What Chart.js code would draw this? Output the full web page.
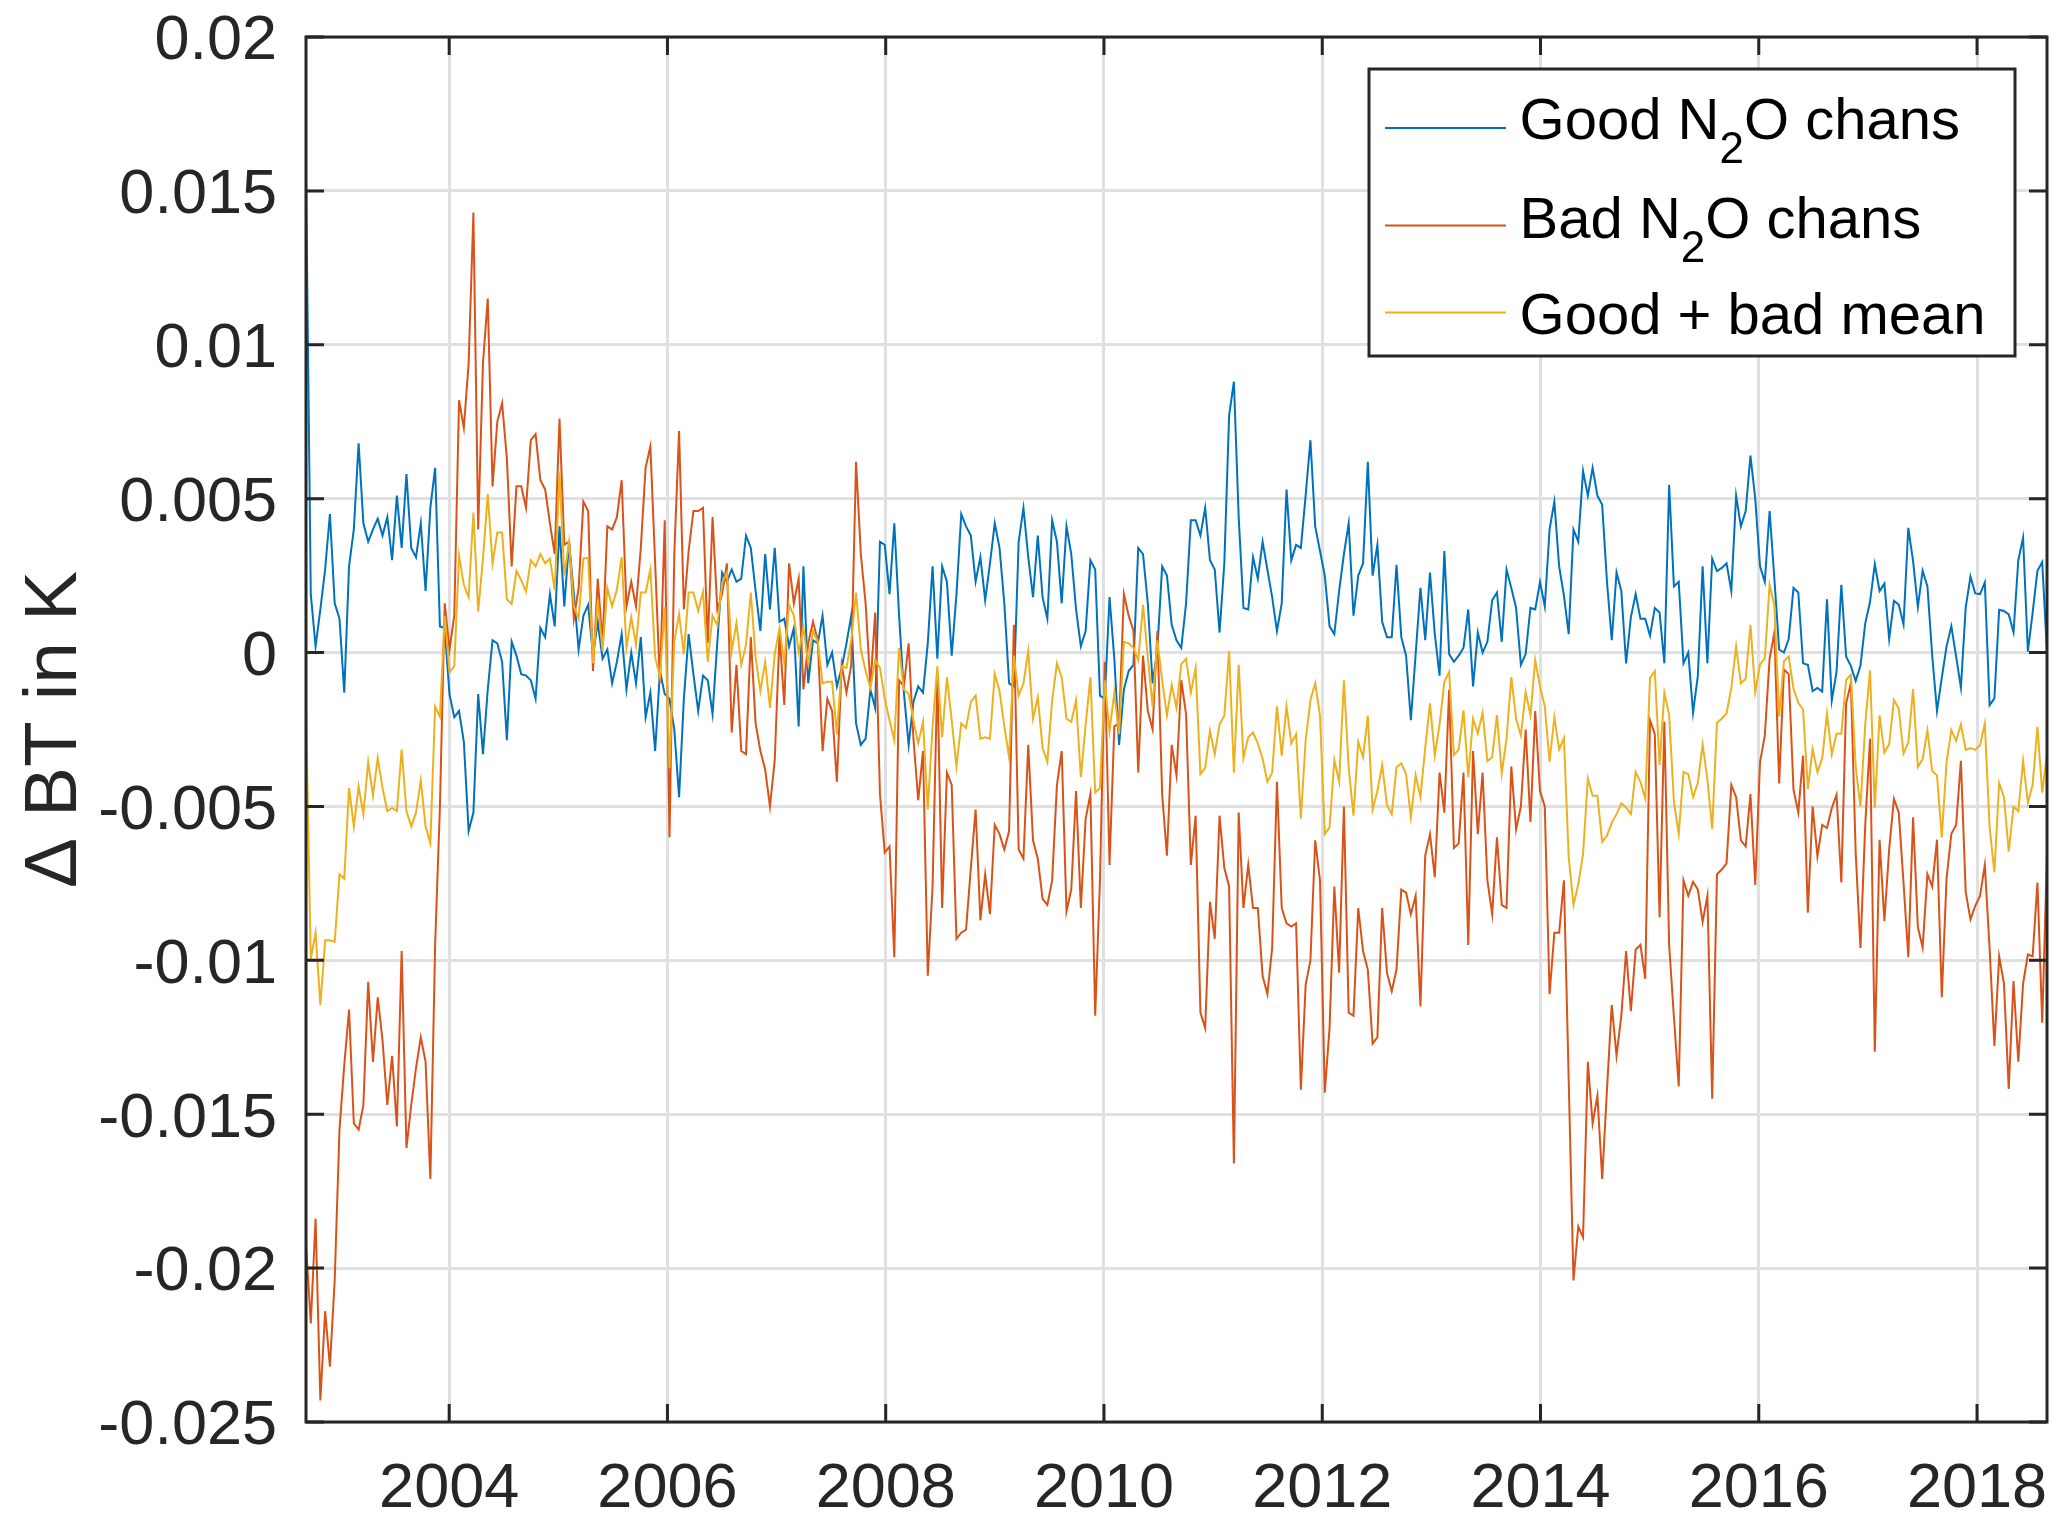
<!DOCTYPE html>
<html>
<head>
<meta charset="utf-8">
<script src="https://cdn.jsdelivr.net/npm/chart.js@4.4.1/dist/chart.umd.min.js"></script>
<style>
html,body{margin:0;padding:0;background:#fff;}
#wrap{width:2067px;height:1527px;position:relative;}
canvas{display:block;}
</style>
</head>
<body>
<div id="wrap"><canvas id="c" width="2067" height="1527"></canvas></div>
<script>
// ---- time axis (16-day samples spanning the plot) ----
const startYear = 2002.688;
const endYear = 2018.641;
const tickYears = [2004, 2006, 2008, 2010, 2012, 2014, 2016, 2018];
const yTicks = [-0.025, -0.02, -0.015, -0.01, -0.005, 0, 0.005, 0.01, 0.015, 0.02];
const seriesLabels = ['Good N_2O chans', 'Bad N_2O chans', 'Good + bad mean'];
const seriesColors = ['#0072BD', '#D95319', '#EDB120'];

// ---- series values (K) ----
const good = [
0.0155,0.0019,0.0002,0.0014,0.0027,0.0045,0.0016,0.0011,-0.0013,0.0028,
0.0040,0.0068,0.0042,0.0036,0.0040,0.00435,0.0038,0.0044,0.0030,0.0051,
0.0034,0.0058,0.0034,0.0031,0.0042,0.0020,0.0047,0.0060,0.00085,0.0008,
-0.00135,-0.0021,-0.0019,-0.0029,-0.0058,-0.0052,-0.00135,-0.0033,-0.0012,0.0004,
0.0003,-0.0003,-0.00285,0.00035,-0.0001,-0.0007,-0.00075,-0.0009,-0.0015,0.0008,
0.0005,0.0019,0.00085,0.0041,0.0015,0.0036,0.0019,0.0001,0.0012,0.00155,
-0.0001,0.0010,-0.0002,0.0001,-0.0010,-0.0003,0.0006,-0.0012,0.0000,-0.0010,
0.0005,-0.0021,-0.0013,-0.0032,-0.0006,-0.00135,-0.0015,-0.0025,-0.0047,-0.0015,
0.0006,-0.0007,-0.0019,-0.00075,-0.0009,-0.0020,0.00035,0.0026,0.0023,0.0027,
0.0023,0.0024,0.0038,0.0034,0.0020,0.0007,0.0032,0.0014,0.0034,0.0010,
0.0011,0.0002,0.0008,-0.0024,0.0028,-0.0010,0.0004,0.0003,0.0012,-0.0004,
0.0000,-0.0011,-0.0005,0.0003,0.0012,-0.0023,-0.0030,-0.0028,-0.0012,-0.0018,
0.0036,0.0035,0.0019,0.0042,0.0012,-0.0013,-0.0030,-0.0016,-0.0011,-0.0013,
0.0003,0.0028,-0.0002,0.0028,0.0023,-0.0001,0.0019,0.0045,0.0041,0.0038,
0.0023,0.0031,0.0017,0.0029,0.0042,0.0034,0.0016,-0.0010,-0.0011,0.0036,
0.0047,0.0031,0.0018,0.0038,0.0018,0.0011,0.0043,0.0036,0.0016,0.0041,
0.0032,0.0014,0.0002,0.0007,0.0030,0.0027,-0.0014,-0.0015,0.0018,-0.0002,
-0.0030,-0.0012,-0.0006,-0.0004,0.0034,0.0032,0.0016,-0.0010,0.0001,0.0028,
0.0025,0.0009,0.0004,0.00015,0.0016,0.0043,0.0043,0.0038,0.0047,0.0030,
0.0027,0.00065,0.0029,0.0077,0.0088,0.0044,0.00145,0.0014,0.0031,0.0024,
0.0036,0.0027,0.0018,0.0007,0.0016,0.0053,0.0030,0.0035,0.0034,0.0051,
0.0069,0.0041,0.0033,0.0025,0.00085,0.0006,0.0020,0.0032,0.0042,0.0012,
0.0025,0.0029,0.0062,0.0025,0.0035,0.0010,0.0005,0.0005,0.00285,0.0005,
-0.0001,-0.0022,-0.00005,0.0021,0.0004,0.0026,0.0006,-0.00075,0.0033,-0.00005,
-0.0003,-0.0001,0.00015,0.0014,-0.0011,0.00065,0.0000,0.00035,0.0017,0.00195,
0.00035,0.0027,0.0021,0.00145,-0.0004,-0.00005,0.00145,0.0014,0.0023,0.0015,
0.0040,0.0049,0.0028,0.00185,0.0006,0.0040,0.0036,0.0059,0.0051,0.0060,
0.0051,0.0048,0.0023,0.0004,0.0026,0.0020,-0.00035,0.00115,0.0019,0.0011,
0.0011,0.00055,0.00145,0.0013,-0.00035,0.00545,0.00215,0.0023,-0.00035,0.0000,
-0.00195,-0.00075,0.0028,-0.00035,0.00305,0.00265,0.00275,0.0029,0.0020,0.0051,
0.0041,0.0046,0.0064,0.0050,0.0028,0.0023,0.0046,0.0024,0.0001,0.0000,
0.00045,0.0021,0.00195,-0.00035,-0.0004,-0.00125,-0.00115,-0.00127,0.00173,-0.00156,
-0.00063,0.0022,-0.00013,-0.00044,-0.00092,-0.00042,0.00095,0.00165,0.00287,0.0020,
0.00224,0.00044,0.00168,0.00156,0.00092,0.00405,0.00297,0.00148,0.00266,0.00215,
-0.0001,-0.0019,-0.00082,0.0002,0.00086,-0.00013,-0.00114,0.00146,0.00247,0.00192,
0.0019,0.00228,-0.00171,-0.00149,0.00139,0.00135,0.00124,0.00066,0.0030,0.00373,
0.00003,0.0013,0.00266,0.00294,0.0000
];
const bad = [
-0.0192,-0.0218,-0.0184,-0.0243,-0.0214,-0.0232,-0.0204,-0.0155,-0.0134,-0.0116,
-0.0153,-0.0155,-0.0147,-0.0107,-0.0133,-0.0112,-0.0126,-0.0147,-0.0131,-0.0154,
-0.0097,-0.0161,-0.0147,-0.0135,-0.0125,-0.0133,-0.0171,-0.0095,-0.0050,0.0016,
0.0001,0.0012,0.0082,0.0073,0.0094,0.0143,0.0040,0.0094,0.0115,0.0054,
0.0075,0.0081,0.0063,0.0028,0.0054,0.0054,0.0047,0.0069,0.0071,0.0056,
0.0053,0.0042,0.0032,0.0076,0.0035,0.0036,0.0011,0.0021,0.0049,0.0046,
-0.0006,0.0024,0.0003,0.0041,0.0040,0.0044,0.0056,0.0015,0.0023,0.0015,
0.0034,0.0060,0.0067,0.0029,-0.0010,0.0043,-0.0060,0.0032,0.0072,0.0014,
0.0033,0.0046,0.0046,0.0047,0.0003,0.0044,0.0014,0.0019,0.0029,-0.0026,
-0.0004,-0.0032,-0.0033,0.0005,-0.0023,-0.0032,-0.0038,-0.0050,-0.0035,0.0006,
-0.0017,0.0029,0.0016,0.0024,-0.0012,0.0003,0.0010,0.0004,-0.0032,-0.0015,
-0.0019,-0.0042,-0.0004,-0.0013,-0.0004,0.0062,0.0032,0.0016,-0.0011,0.0013,
-0.0046,-0.0065,-0.0063,-0.0099,-0.0009,-0.0011,0.0003,-0.0028,-0.0048,-0.0032,
-0.0105,-0.0076,-0.0007,-0.0083,-0.0039,-0.0043,-0.0093,-0.0091,-0.0090,-0.0070,
-0.0051,-0.0087,-0.0072,-0.0085,-0.0056,-0.0059,-0.0064,-0.0058,0.0009,-0.0064,
-0.0067,-0.0030,-0.0061,-0.0067,-0.0080,-0.0082,-0.0074,-0.0043,-0.0032,-0.0084,
-0.0077,-0.0045,-0.0083,-0.0054,-0.0046,-0.0118,-0.0074,-0.0003,-0.0069,-0.0024,
-0.0023,0.0019,0.0012,0.0007,-0.0039,-0.0001,-0.0019,-0.0025,0.0007,-0.0046,
-0.0066,-0.0030,-0.0040,-0.0009,-0.0020,-0.0069,-0.0053,-0.0117,-0.0122,-0.0081,
-0.0093,-0.0053,-0.0070,-0.0076,-0.0166,-0.0052,-0.0083,-0.0069,-0.0083,-0.0083,
-0.0105,-0.0111,-0.0096,-0.0042,-0.0083,-0.0088,-0.0089,-0.0088,-0.0142,-0.0108,
-0.0100,-0.0061,-0.0074,-0.0143,-0.0122,-0.0076,-0.0104,-0.0050,-0.0117,-0.0118,
-0.0083,-0.0097,-0.0103,-0.0127,-0.0125,-0.0083,-0.0104,-0.0110,-0.0103,-0.0077,
-0.0078,-0.0085,-0.0079,-0.0115,-0.0066,-0.0059,-0.0073,-0.0039,-0.0052,-0.0012,
-0.00635,-0.0062,-0.0039,-0.0095,-0.0032,-0.0059,-0.0039,-0.0074,-0.0085,-0.0060,
-0.0082,-0.0083,-0.0037,-0.00575,-0.0050,-0.0025,-0.0055,-0.0019,-0.0045,-0.0050,
-0.0111,-0.0091,-0.0091,-0.0074,-0.0139,-0.0204,-0.01865,-0.0190,-0.0133,-0.0153,
-0.0144,-0.0171,-0.0142,-0.01145,-0.0131,-0.0118,-0.0097,-0.01165,-0.00965,-0.0095,
-0.0106,-0.0022,-0.00265,-0.0086,-0.00225,-0.0095,-0.01185,-0.0141,-0.0074,-0.0079,
-0.00745,-0.0077,-0.00875,-0.0079,-0.0145,-0.0072,-0.00705,-0.00685,-0.0043,-0.0047,
-0.0061,-0.0063,-0.0046,-0.00755,-0.00355,-0.0027,-0.0002,0.00065,-0.00425,-0.00055,
-0.0007,-0.00445,-0.0052,-0.00335,-0.00845,-0.0050,-0.00662,-0.0056,-0.0057,-0.00506,
-0.00462,-0.00747,-0.00165,-0.0010,-0.0065,-0.0096,-0.0056,-0.0028,-0.01297,-0.00608,
-0.00873,-0.00639,-0.00475,-0.00519,-0.00747,-0.0099,-0.00535,-0.00892,-0.00958,-0.0072,
-0.0076,-0.00608,-0.0112,-0.00734,-0.00589,-0.0056,-0.00352,-0.00778,-0.00867,-0.00823,
-0.00791,-0.0069,-0.00962,-0.01278,-0.00987,-0.01076,-0.01418,-0.01067,-0.01329,-0.01076,
-0.00981,-0.00987,-0.00747,-0.01203,-0.00658
];
const meanGoodBad = [
-0.00185,-0.00995,-0.0091,-0.01145,-0.00935,-0.00935,-0.0094,-0.0072,-0.00735,-0.0044,
-0.00565,-0.00435,-0.00525,-0.00355,-0.00465,-0.00343,-0.0044,-0.00515,-0.00505,-0.00515,
-0.00315,-0.00515,-0.00565,-0.0052,-0.00415,-0.00565,-0.0062,-0.00175,-0.00208,0.0012,
-0.00063,-0.00045,0.00315,0.0022,0.0018,0.00455,0.00133,0.00305,0.00515,0.0029,
0.0039,0.0039,0.00173,0.00158,0.00265,0.00235,0.00198,0.0030,0.0028,0.0032,
0.0029,0.00305,0.00203,0.00585,0.0025,0.0036,0.0015,0.0011,0.00305,0.00308,
-0.00035,0.0017,0.00005,0.0021,0.0015,0.00205,0.0031,0.00015,0.00115,0.00025,
0.00195,0.00195,0.0027,-0.00015,-0.0008,0.00148,-0.00375,0.00035,0.00125,-0.00005,
0.00195,0.00195,0.00135,0.00198,-0.0003,0.0012,0.00088,0.00225,0.0026,0.00005,
0.00095,-0.0004,0.00025,0.00195,-0.00015,-0.00125,-0.0003,-0.0018,-0.00005,0.0008,
-0.0003,0.00155,0.0012,0.0000,0.0008,-0.00035,0.0007,0.00035,-0.0010,-0.00095,
-0.00095,-0.00265,-0.00045,-0.0005,0.0004,0.00195,0.0001,-0.0006,-0.00115,-0.00025,
-0.0005,-0.0015,-0.0022,-0.00285,0.00015,-0.0012,-0.00135,-0.0022,-0.00295,-0.00225,
-0.0051,-0.0024,-0.00045,-0.00275,-0.0008,-0.0022,-0.0037,-0.0023,-0.00245,-0.0016,
-0.0014,-0.0028,-0.00275,-0.0028,-0.0007,-0.00125,-0.0024,-0.0034,-0.0001,-0.0014,
-0.0010,0.00005,-0.00215,-0.00145,-0.0031,-0.00355,-0.00155,-0.00035,-0.0008,-0.00215,
-0.00225,-0.00155,-0.00405,-0.00235,-0.0008,-0.00455,-0.0044,-0.0009,-0.00255,-0.0013,
-0.00265,0.00035,0.0003,0.00015,-0.00025,0.00155,-0.00015,-0.00175,0.0004,-0.0009,
-0.00205,-0.00105,-0.0018,-0.00038,-0.0002,-0.0013,-0.0005,-0.00395,-0.00375,-0.00255,
-0.0033,-0.00233,-0.00205,0.00005,-0.0039,-0.0004,-0.00343,-0.00275,-0.0026,-0.00295,
-0.00345,-0.0042,-0.0039,-0.00175,-0.00335,-0.00175,-0.00295,-0.00265,-0.0054,-0.00285,
-0.00155,-0.0010,-0.00205,-0.0059,-0.00568,-0.0035,-0.0042,-0.0009,-0.00375,-0.0053,
-0.0029,-0.0034,-0.00205,-0.0051,-0.0045,-0.00365,-0.00495,-0.00525,-0.00373,-0.0036,
-0.00395,-0.00535,-0.00398,-0.0047,-0.0031,-0.00165,-0.00335,-0.00233,-0.00095,-0.00063,
-0.00333,-0.00315,-0.00188,-0.00405,-0.00215,-0.00263,-0.00195,-0.00353,-0.0034,-0.00203,
-0.00393,-0.0028,-0.0008,-0.00215,-0.0027,-0.00128,-0.00203,-0.00025,-0.0011,-0.00175,
-0.00355,-0.0021,-0.00315,-0.00278,-0.00665,-0.0082,-0.00753,-0.00655,-0.0041,-0.00465,
-0.00465,-0.00615,-0.00595,-0.00553,-0.00525,-0.0049,-0.00503,-0.00525,-0.00388,-0.0042,
-0.00475,-0.00083,-0.0006,-0.00365,-0.0013,-0.00203,-0.00485,-0.0059,-0.00388,-0.00395,
-0.0047,-0.00423,-0.00298,-0.00413,-0.00573,-0.00228,-0.00215,-0.00198,-0.00115,0.0002,
-0.0010,-0.00085,0.0009,-0.00128,-0.00038,-0.0002,0.0022,0.00153,-0.00208,-0.00028,
-0.00013,-0.00118,-0.00163,-0.00185,-0.00443,-0.00313,-0.00389,-0.00344,-0.00199,-0.00331,
-0.00263,-0.00264,-0.00089,-0.00072,-0.00371,-0.00501,-0.00233,-0.00058,-0.00505,-0.00204,
-0.00325,-0.00298,-0.00154,-0.00182,-0.00328,-0.00293,-0.00119,-0.00372,-0.00346,-0.00253,
-0.00385,-0.00399,-0.00601,-0.00357,-0.00252,-0.00287,-0.00233,-0.00316,-0.0031,-0.00316,
-0.00301,-0.00231,-0.00567,-0.00714,-0.00424,-0.00471,-0.00647,-0.00501,-0.00515,-0.00352,
-0.00489,-0.00429,-0.00241,-0.00455,-0.00329
];

// sample times (evenly spaced acquisition dates)
const sampleTimes = good.map((_, i) => startYear + i * (endYear - startYear) / (good.length - 1));
const toPoints = arr => arr.map((v, i) => ({x: sampleTimes[i], y: v}));

const FONT = '"Liberation Sans", Arial, Helvetica, sans-serif';
const AX = '#262626';

function fmtY(v) {
  const r = Math.round(v * 1000) / 1000;
  if (Math.abs(r) < 1e-12) return '0';
  return String(r);
}

const frameAndLegend = {
  id: 'frameAndLegend',
  afterDraw(chart) {
    const {ctx, chartArea: a, scales: {x, y}} = chart;
    ctx.save();
    // axes box and inward ticks
    ctx.strokeStyle = AX;
    ctx.lineWidth = 3;
    const tl = 18;
    ctx.beginPath();
    tickYears.forEach(v => {
      const px = x.getPixelForValue(v);
      ctx.moveTo(px, a.bottom); ctx.lineTo(px, a.bottom - tl);
      ctx.moveTo(px, a.top); ctx.lineTo(px, a.top + tl);
    });
    yTicks.forEach(v => {
      const py = y.getPixelForValue(v);
      ctx.moveTo(a.left, py); ctx.lineTo(a.left + tl, py);
      ctx.moveTo(a.right, py); ctx.lineTo(a.right - tl, py);
    });
    ctx.stroke();
    ctx.strokeRect(a.left, a.top, a.right - a.left, a.bottom - a.top);

    // legend box
    const bx = a.right - 678, by = a.top + 32, bw = 646, bh = 287;
    ctx.fillStyle = '#ffffff';
    ctx.fillRect(bx, by, bw, bh);
    ctx.strokeStyle = AX;
    ctx.lineWidth = 3;
    ctx.strokeRect(bx, by, bw, bh);

    const lineY = [59, 156.5, 243.6];
    const baseY = [69.5, 168.5, 265];
    const mainSize = 58, subSize = 44, subDrop = 24;
    chart.data.datasets.forEach((ds, k) => {
      ctx.strokeStyle = ds.borderColor;
      ctx.lineWidth = 2;
      ctx.beginPath();
      ctx.moveTo(bx + 16, by + lineY[k]);
      ctx.lineTo(bx + 137, by + lineY[k]);
      ctx.stroke();
      // text with subscripts marked as _c
      const parts = seriesLabels[k].split(/_(.)/);
      let tx = bx + 150.6;
      const ty = by + baseY[k];
      ctx.fillStyle = '#000000';
      ctx.textBaseline = 'alphabetic';
      ctx.textAlign = 'left';
      parts.forEach((p, j) => {
        const isSub = j % 2 === 1;
        ctx.font = (isSub ? subSize : mainSize) + 'px ' + FONT;
        ctx.fillText(p, tx, ty + (isSub ? subDrop : 0));
        tx += ctx.measureText(p).width;
      });
    });
    ctx.restore();
  }
};

const datasets = [good, bad, meanGoodBad].map((arr, k) => ({
  label: seriesLabels[k].replace('_2', '\u2082'),
  data: toPoints(arr),
  borderColor: seriesColors[k],
  backgroundColor: seriesColors[k],
  borderWidth: 2,
  pointRadius: 0,
  fill: false,
  tension: 0,
  order: 3 - k
}));

new Chart(document.getElementById('c'), {
  type: 'line',
  data: {datasets},
  plugins: [frameAndLegend],
  options: {
    responsive: false,
    animation: false,
    layout: {padding: {left: 0, right: 20, top: 37, bottom: 0}},
    plugins: {legend: {display: false}, tooltip: {enabled: false}},
    scales: {
      x: {
        type: 'linear',
        min: startYear,
        max: endYear,
        afterBuildTicks: s => { s.ticks = tickYears.map(v => ({value: v})); },
        afterFit: s => { s.height = 105; s.paddingLeft = 0; s.paddingRight = 0; },
        ticks: {
          callback: v => String(v),
          font: {family: FONT, size: 63},
          color: AX,
          padding: 30,
          maxRotation: 0,
          autoSkip: false
        },
        grid: {color: '#e0e0e0', lineWidth: 3, drawTicks: false},
        border: {display: false}
      },
      y: {
        type: 'linear',
        min: -0.025,
        max: 0.02,
        afterBuildTicks: s => { s.ticks = yTicks.map(v => ({value: v})); },
        afterFit: s => { s.width = 306; s.paddingTop = 0; s.paddingBottom = 0; },
        ticks: {
          callback: v => fmtY(v),
          font: {family: FONT, size: 63},
          color: AX,
          padding: 29,
          labelOffset: 5,
          autoSkip: false
        },
        title: {
          display: true,
          text: '\u0394 BT in K',
          font: {family: FONT, size: 75},
          color: AX,
          padding: {top: 10, bottom: 0}
        },
        grid: {color: '#e0e0e0', lineWidth: 3, drawTicks: false},
        border: {display: false}
      }
    }
  }
});
</script>
</body>
</html>
